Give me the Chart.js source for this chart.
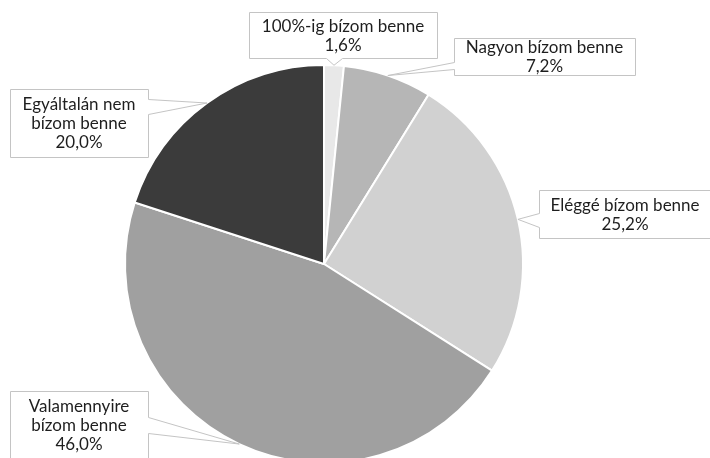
<!DOCTYPE html>
<html>
<head>
<meta charset="utf-8">
<script src="https://cdn.jsdelivr.net/npm/chart.js@4"></script>
<style>
  html, body { margin: 0; padding: 0; background: #fff; overflow: hidden; }
  #wrap { width: 710px; height: 458px; overflow: hidden; position: relative; }
  canvas { display: block; }
</style>
</head>
<body>
<div id="wrap"><canvas id="c" width="710" height="480"></canvas></div>
<script>
// ---- data ----
const categories = [
  '100%-ig bízom benne',
  'Nagyon bízom benne',
  'Eléggé bízom benne',
  'Valamennyire bízom benne',
  'Egyáltalán nem bízom benne'
];
const values = [1.6, 7.2, 25.2, 46.0, 20.0];
const labelLines = [
  ['100%-ig bízom benne'],
  ['Nagyon bízom benne'],
  ['Eléggé bízom benne'],
  ['Valamennyire', 'bízom benne'],
  ['Egyáltalán nem', 'bízom benne']
];

// ---- styles / layout ----
const sliceColors = ['#e8e8e8', '#b6b6b6', '#d1d1d1', '#a0a0a0', '#3b3b3b'];
// callout boxes: x, y, w, h, side of wedge, wedge base start/end (offset along side)
const callouts = [
  { x: 249, y: 12,  w: 188, h: 46, side: 'bottom', b0: 77, b1: 93 },
  { x: 454, y: 38,  w: 181, h: 37, side: 'left',   b0: 24, b1: 31 },
  { x: 539, y: 190, w: 172, h: 48, side: 'left',   b0: 23, b1: 37 },
  { x: 10,  y: 391, w: 138, h: 68, side: 'right',  b0: 26, b1: 42 },
  { x: 10,  y: 89,  w: 138, h: 68, side: 'right',  b0: 10, b1: 25 }
];
const FONT = '17px Lato, "Open Sans", sans-serif';
const LINE_H = 19;

function fmt(v) { return v.toFixed(1).replace('.', ',') + '%'; }

const calloutPlugin = {
  id: 'callouts',
  afterDatasetsDraw(chart) {
    const ctx = chart.ctx;
    const meta = chart.getDatasetMeta(0);
    meta.data.forEach((arc, i) => {
      const p = arc.getProps(['x', 'y', 'startAngle', 'endAngle', 'outerRadius'], true);
      const mid = (p.startAngle + p.endAngle) / 2;
      const tx = p.x + Math.cos(mid) * p.outerRadius;
      const ty = p.y + Math.sin(mid) * p.outerRadius;
      const c = callouts[i];
      const x = Math.round(c.x) + 0.5, y = Math.round(c.y) + 0.5;
      const w = c.w, h = c.h;
      ctx.save();
      ctx.beginPath();
      if (c.side === 'bottom') {
        ctx.moveTo(x, y); ctx.lineTo(x + w, y); ctx.lineTo(x + w, y + h);
        ctx.lineTo(x + c.b1, y + h); ctx.lineTo(tx, ty); ctx.lineTo(x + c.b0, y + h);
        ctx.lineTo(x, y + h); ctx.closePath();
      } else if (c.side === 'left') {
        ctx.moveTo(x, y); ctx.lineTo(x + w, y); ctx.lineTo(x + w, y + h);
        ctx.lineTo(x, y + h); ctx.lineTo(x, y + c.b1); ctx.lineTo(tx, ty);
        ctx.lineTo(x, y + c.b0); ctx.closePath();
      } else {
        ctx.moveTo(x, y); ctx.lineTo(x + w, y); ctx.lineTo(x + w, y + c.b0);
        ctx.lineTo(tx, ty); ctx.lineTo(x + w, y + c.b1); ctx.lineTo(x + w, y + h);
        ctx.lineTo(x, y + h); ctx.closePath();
      }
      ctx.fillStyle = '#ffffff';
      ctx.fill();
      ctx.strokeStyle = '#c4c4c4';
      ctx.lineWidth = 1;
      ctx.stroke();
      const lines = labelLines[i].concat([fmt(chart.data.datasets[0].data[i])]);
      ctx.fillStyle = '#1e1e1e';
      ctx.font = FONT;
      ctx.textAlign = 'center';
      ctx.textBaseline = 'middle';
      const cx = c.x + w / 2;
      const cy = c.y + h / 2;
      const start = cy - (lines.length - 1) * LINE_H / 2;
      lines.forEach((t, k) => ctx.fillText(t, cx, start + k * LINE_H + 1));
      ctx.restore();
    });
  }
};

new Chart(document.getElementById('c'), {
  type: 'pie',
  data: {
    labels: categories,
    datasets: [{
      data: values,
      backgroundColor: sliceColors,
      borderColor: '#ffffff',
      borderWidth: 2
    }]
  },
  options: {
    responsive: false,
    animation: false,
    events: [],
    layout: { padding: { left: 124, top: 64, right: 186, bottom: 16 } },
    plugins: {
      legend: { display: false },
      tooltip: { enabled: false }
    }
  },
  plugins: [calloutPlugin]
});
</script>
</body>
</html>
